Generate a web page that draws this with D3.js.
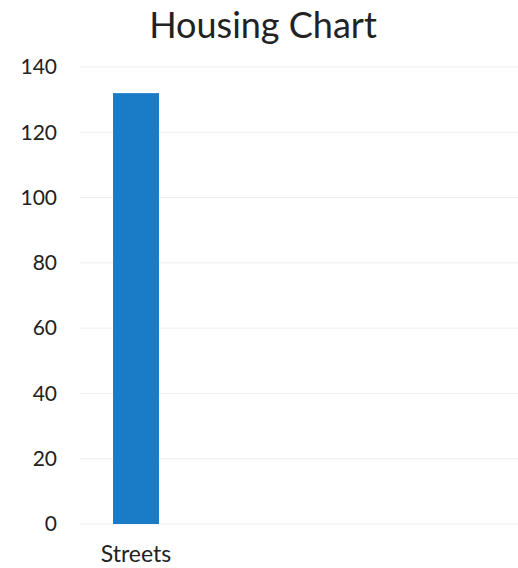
<!DOCTYPE html>
<html>
<head>
<meta charset="utf-8">
<script src="https://cdn.jsdelivr.net/npm/d3@7"></script>
<style>
  body { margin: 0; background: #fff; }
  text { font-family: Lato, "Open Sans", sans-serif; fill: #222; }
</style>
</head>
<body>
<div id="chart"></div>
<script>
// data
var categories = ["Streets"];
var values = [132];
var yTicks = [0, 20, 40, 60, 80, 100, 120, 140];

var svgWidth = 518;
var svgHeight = 568;

var svg = d3.select("#chart")
  .append("svg")
  .attr("width", svgWidth)
  .attr("height", svgHeight);

var yScale = d3.scaleLinear()
  .domain([0, 140])
  .range([524, 67]);

var xScale = d3.scaleBand()
  .domain(categories)
  .range([113, 159])
  .padding(0);

// gridlines
svg.append("g")
  .selectAll("line")
  .data(yTicks)
  .enter()
  .append("line")
  .attr("x1", 80)
  .attr("x2", 518)
  .attr("y1", d => yScale(d))
  .attr("y2", d => yScale(d))
  .attr("stroke", "#eeeeee")
  .attr("stroke-width", 1);

// y axis labels
var leftAxis = d3.axisLeft(yScale).tickValues(yTicks).tickSize(0).tickPadding(0);
var yAxis = svg.append("g")
  .attr("transform", "translate(57, 0)")
  .call(leftAxis);
yAxis.select(".domain").remove();
yAxis.selectAll("text")
  .attr("font-size", 21)
  .attr("font-family", "Lato, sans-serif")
  .attr("fill", "#222");

// bars
svg.selectAll("rect.bar")
  .data(values)
  .enter()
  .append("rect")
  .attr("class", "bar")
  .attr("x", (d, i) => xScale(categories[i]))
  .attr("y", d => yScale(d))
  .attr("width", xScale.bandwidth())
  .attr("height", d => yScale(0) - yScale(d))
  .attr("fill", "#1a7cc6");

// x axis labels
var bottomAxis = d3.axisBottom(xScale).tickSize(0).tickPadding(0);
var xAxis = svg.append("g")
  .attr("transform", "translate(0, 546)")
  .call(bottomAxis);
xAxis.select(".domain").remove();
xAxis.selectAll("text")
  .attr("font-size", 23)
  .attr("font-family", "Lato, sans-serif")
  .attr("fill", "#222");

// title
svg.append("text")
  .attr("x", 263)
  .attr("y", 38)
  .attr("text-anchor", "middle")
  .attr("font-size", 36)
  .text("Housing Chart");
</script>
</body>
</html>
